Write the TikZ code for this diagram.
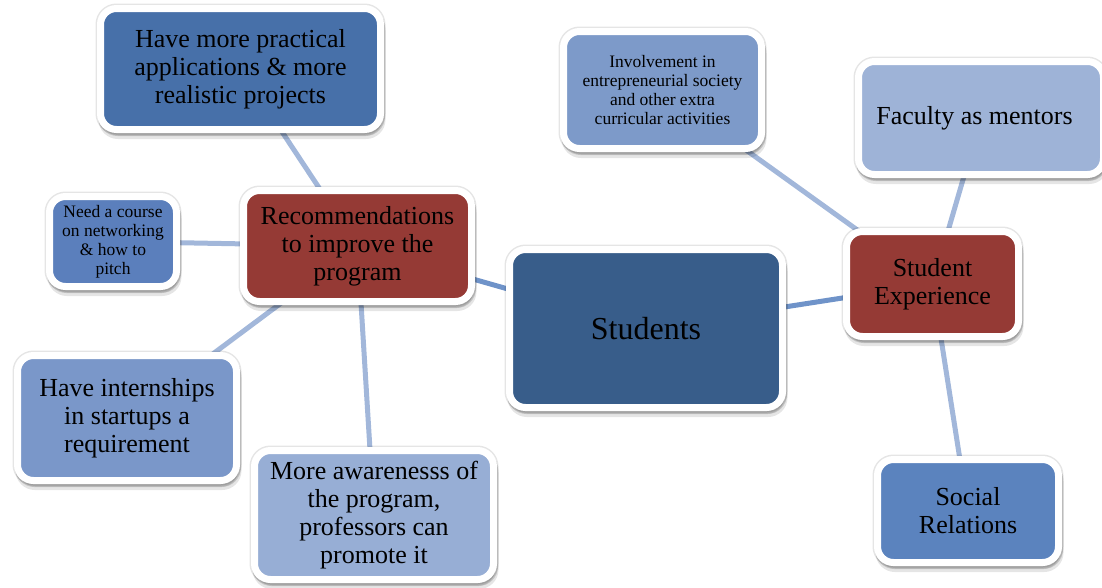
\documentclass[tikz,border=0pt]{standalone}
\usepackage{fontspec}
\IfFontExistsTF{LiberationSerif-Regular.ttf}{\setmainfont{LiberationSerif-Regular.ttf}[BoldFont=LiberationSerif-Bold.ttf]}{\setmainfont{Liberation Serif}}
\usetikzlibrary{shadows,backgrounds}
\definecolor{cPrac}{HTML}{4770A9}
\definecolor{cRed}{HTML}{953A35}
\definecolor{cNeed}{HTML}{5B7FBC}
\definecolor{cIntern}{HTML}{7A97C9}
\definecolor{cAware}{HTML}{97AED5}
\definecolor{cStud}{HTML}{385D8A}
\definecolor{cInv}{HTML}{7D9AC9}
\definecolor{cFac}{HTML}{9EB3D7}
\definecolor{cSoc}{HTML}{5B83BE}
\definecolor{cLink}{HTML}{A2B7DA}
\definecolor{cLinkDark}{HTML}{6F93C9}
\tikzset{
  bx/.style={rectangle, rounded corners=16pt, draw=white, line width=7pt,
    align=center, inner sep=2pt, text=black,
    general shadow={shadow xshift=0pt, shadow yshift=0pt, opacity=0.10, fill=black, draw=black, line width=10pt},
    general shadow={shadow xshift=1pt, shadow yshift=-3pt, opacity=0.14, fill=black, draw=black, line width=7pt},
    general shadow={shadow xshift=1.5pt, shadow yshift=-6pt, opacity=0.10, fill=black, draw=black, line width=7pt}},
  big/.style={font=\fontsize{26}{28}\selectfont},
  small/.style={font=\fontsize{17.5}{19}\selectfont},
  link/.style={draw=cLink, line width=5pt},
  linkd/.style={draw=cLinkDark, line width=5pt},
}
\begin{document}
\begin{tikzpicture}[x=1pt,y=-1pt]
\useasboundingbox (0,0) rectangle (1102,587);
\node[bx,big,fill=cPrac,minimum width=280pt,minimum height=121pt] (prac) at (240.5,69) {Have more practical\\applications \& more\\realistic projects};
\node[bx,big,fill=cRed,minimum width=228pt,minimum height=111pt] (rec) at (357.5,246) {Recommendations\\to improve the\\program};
\node[bx,small,fill=cNeed,minimum width=127pt,minimum height=90pt] (need) at (113,241.5) {Need a course\\on networking\\\& how to\\pitch};
\node[bx,big,fill=cIntern,minimum width=219pt,minimum height=125pt] (intern) at (127,418) {Have internships\\in startups a\\requirement};
\node[bx,big,fill=cAware,minimum width=239pt,minimum height=129pt] (aware) at (374,515) {More awarenesss of\\the program,\\professors can\\promote it};
\node[bx,fill=cStud,font=\fontsize{32}{36}\selectfont,minimum width=273pt,minimum height=158pt] (stud) at (646,328.5) {Students};
\node[bx,small,fill=cInv,minimum width=198pt,minimum height=117pt] (inv) at (662.5,90) {Involvement in\\entrepreneurial society\\and other extra\\curricular activities};
\node[bx,big,fill=cFac,minimum width=245pt,minimum height=113pt] (fac) at (981,118) {Faculty as mentors\phantom{g}};
\node[bx,big,fill=cRed,minimum width=172pt,minimum height=105pt] (exp) at (932.5,284) {Student\\Experience};
\node[bx,big,fill=cSoc,minimum width=181pt,minimum height=103pt] (soc) at (968,511) {Social\\Relations};
\begin{scope}[on background layer]
\draw[link] (prac.center) -- (rec.center);
\draw[link] (need.center) -- (rec.center);
\draw[link] (intern.center) -- (rec.center);
\draw[link] (aware.center) -- (rec.center);
\draw[linkd] (rec.center) -- (stud.center);
\draw[linkd] (stud.center) -- (exp.center);
\draw[link] (inv.center) -- (exp.center);
\draw[link] (fac.center) -- (exp.center);
\draw[link] (soc.center) -- (exp.center);
\end{scope}
\end{tikzpicture}
\end{document}
